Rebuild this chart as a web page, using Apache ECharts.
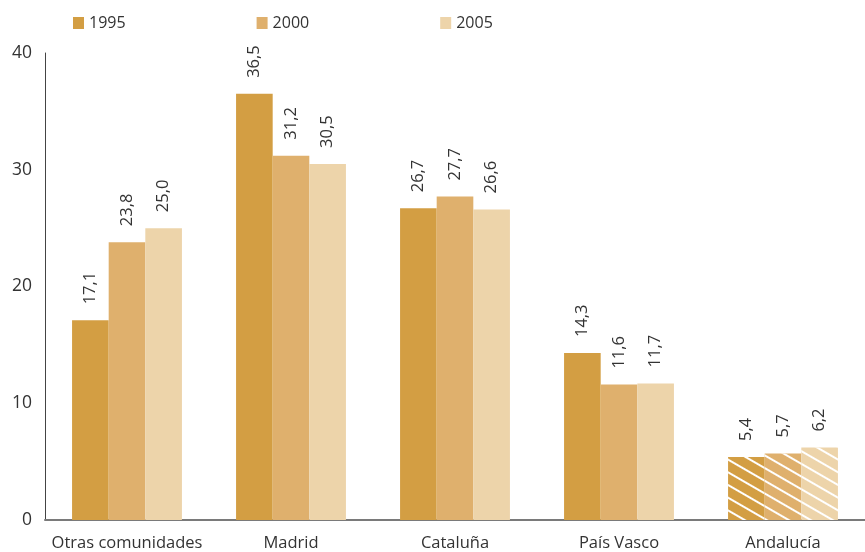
<!DOCTYPE html>
<html>
<head>
<meta charset="utf-8">
<script src="https://cdn.jsdelivr.net/npm/echarts@6/dist/echarts.min.js"></script>
<style>
  html, body { margin: 0; padding: 0; background: #fff; }
  #chart { width: 865px; height: 552px; }
</style>
</head>
<body>
<div id="chart"></div>
<script>
// Regions and yearly shares (%)
const categories = ['Otras comunidades', 'Madrid', 'Cataluña', 'País Vasco', 'Andalucía'];
const years = ['1995', '2000', '2005'];
const values1995 = [17.1, 36.5, 26.7, 14.3, 5.4];
const values2000 = [23.8, 31.2, 27.7, 11.6, 5.7];
const values2005 = [25.0, 30.5, 26.6, 11.7, 6.2];
const yTicks = [0, 10, 20, 30, 40];

// Regions drawn with a hatched fill
const hatched = ['Andalucía'];

const colors = ['#d39e43', '#dfb06d', '#edd4aa'];
const FONT = 'Open Sans';

const stripeDecal = {
  symbol: 'rect',
  symbolSize: 1,
  color: '#ffffff',
  dashArrayX: [[1, 0]],
  dashArrayY: [2, 9],
  rotation: Math.PI / 6
};

function buildData(vals) {
  return vals.map((v, i) => hatched.includes(categories[i])
    ? { value: v, itemStyle: { decal: stripeDecal } }
    : v);
}

const seriesValues = [values1995, values2000, values2005];

const chart = echarts.init(document.getElementById('chart'));

chart.setOption({
  animation: false,
  color: colors,
  legend: {
    top: 10,
    left: 68,
    itemWidth: 11,
    itemHeight: 12,
    itemGap: 131,
    icon: 'rect',
    data: years,
    textStyle: { fontFamily: FONT, fontSize: 16, color: '#333' }
  },
  grid: { left: 45, width: 831, top: 53, bottom: 32 },
  xAxis: {
    type: 'category',
    data: categories,
    axisLine: { show: true, onZero: false, lineStyle: { color: '#7a7a7a', width: 2 } },
    axisTick: { show: false },
    axisLabel: { fontFamily: FONT, fontSize: 16.5, color: '#333', margin: 15, interval: 0 }
  },
  yAxis: {
    type: 'value',
    min: 0,
    max: 40,
    interval: 10,
    splitLine: { show: false },
    axisLine: { show: true, lineStyle: { color: '#444444', width: 1 } },
    axisTick: { show: false },
    axisLabel: {
      fontFamily: FONT, fontSize: 17.5, color: '#333', margin: 13,
      formatter: v => yTicks.includes(v) ? String(v) : ''
    }
  },
  series: years.map((y, k) => ({
    name: y,
    type: 'bar',
    data: buildData(seriesValues[k]),
    barGap: '0%',
    barCategoryGap: '33%',
    itemStyle: { color: colors[k] },
    label: {
      show: true,
      position: 'top',
      rotate: 90,
      align: 'left',
      verticalAlign: 'middle',
      distance: 16,
      fontFamily: FONT,
      fontSize: 16.5,
      color: '#333',
      formatter: p => p.value.toFixed(1).replace('.', ',')
    }
  }))
});
</script>
</body>
</html>
